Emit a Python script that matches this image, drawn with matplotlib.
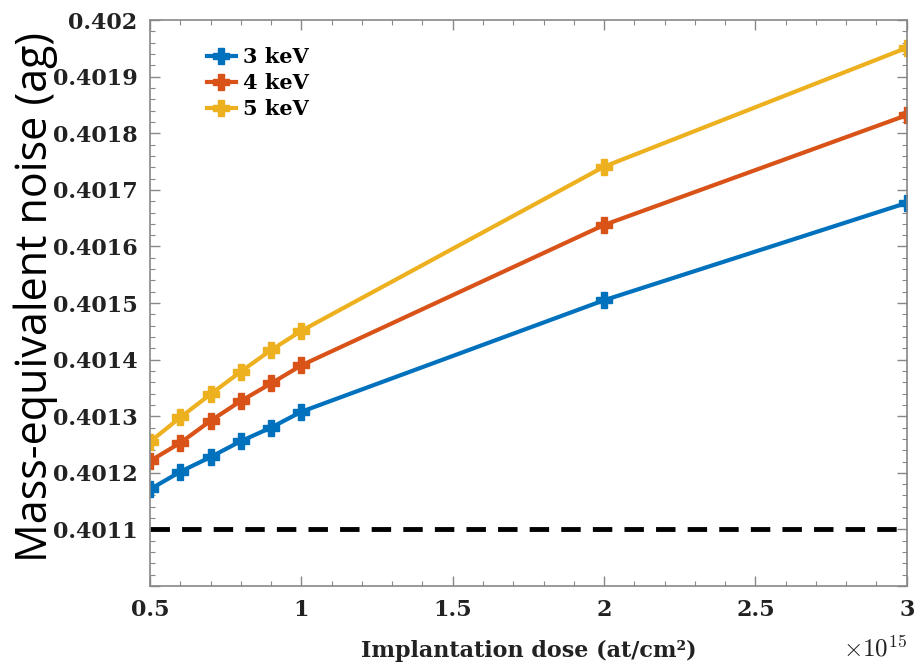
import matplotlib.pyplot as plt
from matplotlib.ticker import MultipleLocator

plt.rcParams['mathtext.fontset'] = 'cm'

dose = [0.5, 0.6, 0.7, 0.8, 0.9, 1.0, 2.0, 3.0]
noise_3kev = [0.401171, 0.401202, 0.401228, 0.401256, 0.401280, 0.401308, 0.401505, 0.401677]
noise_4kev = [0.401221, 0.401253, 0.401292, 0.401327, 0.401358, 0.401390, 0.401638, 0.401832]
noise_5kev = [0.401255, 0.401298, 0.401339, 0.401379, 0.401417, 0.401451, 0.401741, 0.401951]
reference_level = 0.4011
labels = ['3 keV', '4 keV', '5 keV']
colors = ['#0072BD', '#D95319', '#EDB120']

serif = ['DejaVu Serif']


def yfmt(v, pos):
    if abs(v - 0.4010) < 1e-9:
        return ''
    if abs(v - 0.4020) < 1e-9:
        return '0.402'
    return '%.4f' % v


fig = plt.figure(figsize=(9.15, 6.69), dpi=100)
ax = fig.add_axes([0.164, 0.124, 0.827, 0.846])

for y, lab, c in zip([noise_3kev, noise_4kev, noise_5kev], labels, colors):
    ax.plot(dose, y, color=c, lw=3, marker='P', ms=11, mec=c, mew=1, label=lab)

ax.axhline(reference_level, color='black', lw=3.5, ls=(0, (4, 2.5)))

ax.set_xlim(0.5, 3)
ax.set_ylim(0.4010, 0.4020)
ax.xaxis.set_major_locator(MultipleLocator(0.5))
ax.xaxis.set_minor_locator(MultipleLocator(0.1))
ax.yaxis.set_major_locator(MultipleLocator(0.0001))
ax.yaxis.set_minor_locator(MultipleLocator(0.00002))
ax.xaxis.set_major_formatter(plt.FuncFormatter(lambda v, p: '%g' % v))
ax.yaxis.set_major_formatter(plt.FuncFormatter(yfmt))

for s in ax.spines.values():
    s.set_color('#888888')
    s.set_linewidth(1.2)
ax.tick_params(which='both', direction='in', top=True, right=True, color='#888888')
ax.tick_params(which='major', length=7, width=1.0, pad=9)
ax.tick_params(which='minor', length=3.5, width=0.8)
for t in ax.get_xticklabels() + ax.get_yticklabels():
    t.set_family(serif)
    t.set_fontweight('bold')
    t.set_fontsize(16)
    t.set_color('#222222')

ax.set_xlabel('Implantation dose (at/cm²)', family=serif, fontweight='bold',
              fontsize=16, color='#222222', labelpad=14)
ax.set_ylabel('Mass-equivalent noise (ag)', family=['Open Sans'], fontsize=31,
              color='black')
ax.yaxis.set_label_coords(-0.122, 0.51)
ax.text(1.0, -0.11, r'$\times10^{15}$', transform=ax.transAxes, ha='right', va='center',
        fontsize=18, color='#222222')

ax.legend(loc='upper left', bbox_to_anchor=(0.05, 0.985), frameon=False,
          handlelength=1.4, handletextpad=0.35, labelspacing=0.28,
          prop={'family': serif, 'weight': 'bold', 'size': 15})

fig.savefig('out.png', dpi=100)
